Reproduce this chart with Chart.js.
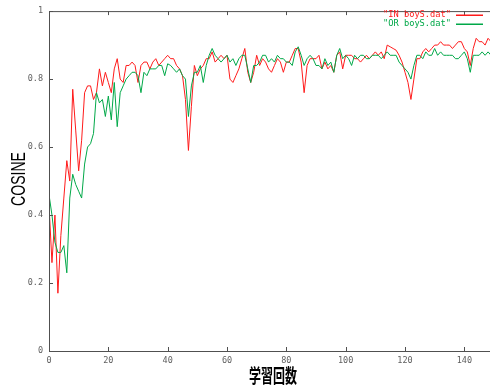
<!DOCTYPE html>
<html>
<head>
<meta charset="utf-8">
<script src="https://cdn.jsdelivr.net/npm/chart.js@4.4.1/dist/chart.umd.min.js"></script>
<style>
  html, body { margin: 0; padding: 0; background: #fff; overflow: hidden; }
  #wrap { width: 490px; height: 392px; overflow: hidden; position: relative; }
  canvas { display: block; }
</style>
</head>
<body>
<div id="wrap"><canvas id="chart" width="495" height="392"></canvas></div>
<script>
// Cosine similarity per training iteration, two runs
const seriesNames = ['"IN boyS.dat"', '"OR boyS.dat"'];
const seriesColors = ['#ff1a1a', '#00a848'];

const inBoys = [
  0.43, 0.26, 0.40, 0.17, 0.34, 0.45, 0.56, 0.50, 0.77, 0.65,
  0.53, 0.62, 0.76, 0.78, 0.78, 0.74, 0.76, 0.83, 0.78, 0.82,
  0.79, 0.76, 0.83, 0.86, 0.80, 0.79, 0.84, 0.84, 0.85, 0.84,
  0.79, 0.84, 0.85, 0.85, 0.83, 0.85, 0.86, 0.84, 0.85, 0.86,
  0.87, 0.86, 0.86, 0.84, 0.83, 0.81, 0.74, 0.59, 0.72, 0.84,
  0.81, 0.83, 0.84, 0.86, 0.86, 0.88, 0.85, 0.86, 0.87, 0.86,
  0.87, 0.80, 0.79, 0.81, 0.83, 0.86, 0.89, 0.82, 0.79, 0.82,
  0.87, 0.84, 0.86, 0.85, 0.83, 0.82, 0.84, 0.86, 0.85, 0.82,
  0.85, 0.85, 0.87, 0.89, 0.89, 0.85, 0.76, 0.84, 0.86, 0.86,
  0.86, 0.87, 0.83, 0.85, 0.83, 0.84, 0.82, 0.87, 0.88, 0.83,
  0.87, 0.87, 0.87, 0.86, 0.86, 0.85, 0.86, 0.87, 0.86, 0.87,
  0.88, 0.87, 0.88, 0.86, 0.90, 0.895, 0.89, 0.885, 0.87, 0.85,
  0.82, 0.79, 0.74, 0.80, 0.86, 0.86, 0.88, 0.89, 0.88, 0.89,
  0.90, 0.90, 0.91, 0.90, 0.90, 0.90, 0.89, 0.90, 0.91, 0.91,
  0.89, 0.88, 0.84, 0.89, 0.92, 0.91, 0.91, 0.90, 0.92, 0.91
];

const orBoys = [
  0.46, 0.40, 0.32, 0.29, 0.29, 0.31, 0.23, 0.45, 0.52, 0.49,
  0.47, 0.45, 0.55, 0.60, 0.61, 0.64, 0.76, 0.73, 0.74, 0.69,
  0.75, 0.68, 0.79, 0.66, 0.76, 0.78, 0.80, 0.81, 0.82, 0.82,
  0.81, 0.76, 0.82, 0.81, 0.83, 0.83, 0.83, 0.84, 0.84, 0.81,
  0.845, 0.84, 0.83, 0.82, 0.83, 0.81, 0.80, 0.69, 0.78, 0.82,
  0.82, 0.84, 0.79, 0.84, 0.87, 0.89, 0.87, 0.86, 0.85, 0.86,
  0.87, 0.85, 0.86, 0.84, 0.86, 0.87, 0.87, 0.83, 0.79, 0.84,
  0.84, 0.85, 0.87, 0.87, 0.85, 0.86, 0.85, 0.87, 0.86, 0.86,
  0.85, 0.85, 0.84, 0.88, 0.895, 0.87, 0.84, 0.86, 0.87, 0.86,
  0.84, 0.84, 0.83, 0.86, 0.84, 0.85, 0.82, 0.87, 0.89, 0.86,
  0.87, 0.86, 0.84, 0.87, 0.86, 0.87, 0.87, 0.86, 0.86, 0.87,
  0.87, 0.87, 0.86, 0.87, 0.88, 0.87, 0.87, 0.87, 0.85, 0.84,
  0.83, 0.82, 0.80, 0.84, 0.87, 0.87, 0.86, 0.88, 0.87, 0.87,
  0.89, 0.87, 0.88, 0.87, 0.87, 0.87, 0.87, 0.86, 0.86, 0.87,
  0.88, 0.86, 0.82, 0.87, 0.87, 0.87, 0.88, 0.87, 0.88, 0.87
];

const xTicks = [0, 20, 40, 60, 80, 100, 120, 140];
const yTicks = [0, 0.2, 0.4, 0.6, 0.8, 1];
const xTitle = '学習回数';
const yTitle = 'COSINE';

const tickFont = { family: 'DejaVu Sans Mono', size: 8.5 };
const axisColor = '#505050';
const tickTextColor = '#606060';

function toPoints(values) {
  return values.map((v, i) => ({ x: i, y: v }));
}

// Frame, inward tick marks on all four sides, axis titles and key
const gnuplotFrame = {
  id: 'gnuplotFrame',
  afterDraw(chart) {
    const { ctx, chartArea: a, scales } = chart;
    const L = a.left, R = a.right, T = a.top, B = a.bottom;
    ctx.save();
    ctx.strokeStyle = axisColor;
    ctx.lineWidth = 1;
    ctx.beginPath();
    ctx.rect(L + 0.5, T + 0.5, R - L - 1, B - T);
    ctx.stroke();

    const tl = 4;
    ctx.beginPath();
    xTicks.forEach(v => {
      const px = Math.round(scales.x.getPixelForValue(v)) + 0.5;
      ctx.moveTo(px, B); ctx.lineTo(px, B - tl);
      ctx.moveTo(px, T); ctx.lineTo(px, T + tl);
    });
    yTicks.forEach(v => {
      const py = Math.round(scales.y.getPixelForValue(v)) + 0.5;
      ctx.moveTo(L, py); ctx.lineTo(L + tl, py);
      ctx.moveTo(R, py); ctx.lineTo(R - tl, py);
    });
    ctx.stroke();

    // y-axis title, narrow and rotated
    ctx.fillStyle = '#000';
    ctx.font = '19.5px "Liberation Sans"';
    ctx.textAlign = 'center';
    ctx.textBaseline = 'middle';
    let w = ctx.measureText(yTitle).width;
    ctx.save();
    ctx.translate(20, 179);
    ctx.rotate(-Math.PI / 2);
    ctx.scale(54 / w, 1);
    ctx.fillText(yTitle, 0, 0);
    ctx.restore();

    // x-axis title
    ctx.font = 'bold 19px "Noto Sans CJK JP"';
    w = ctx.measureText(xTitle).width;
    ctx.save();
    ctx.translate(273, 376);
    ctx.scale(48 / w, 1);
    ctx.fillText(xTitle, 0, 0);
    ctx.restore();

    // key, top right
    ctx.font = '8.7px "DejaVu Sans Mono"';
    ctx.textAlign = 'right';
    chart.data.datasets.forEach((ds, k) => {
      const y = 15 + k * 9;
      const col = seriesColors[k];
      ctx.fillStyle = col;
      ctx.fillText(ds.label, 451, y);
      ctx.fillRect(456, y - 0.5, 27, 1.5);
    });
    ctx.restore();
  }
};

new Chart(document.getElementById('chart'), {
  type: 'line',
  data: {
    datasets: [
      { label: seriesNames[0], data: toPoints(inBoys), borderColor: seriesColors[0],
        borderWidth: 1, pointRadius: 0, tension: 0, fill: false, order: 1 },
      { label: seriesNames[1], data: toPoints(orBoys), borderColor: seriesColors[1],
        borderWidth: 1, pointRadius: 0, tension: 0, fill: false, order: 0 }
    ]
  },
  options: {
    responsive: false,
    animation: false,
    devicePixelRatio: 1,
    layout: { padding: { top: 9, right: 1, left: 0, bottom: 0 } },
    plugins: { legend: { display: false }, tooltip: { enabled: false } },
    scales: {
      x: {
        type: 'linear', min: 0, max: 150,
        grid: { display: false, drawTicks: false },
        border: { display: false },
        afterBuildTicks: s => { s.ticks = xTicks.map(v => ({ value: v })); },
        afterFit: s => { s.height = 41; },
        ticks: { font: tickFont, color: tickTextColor, padding: 5, maxRotation: 0, autoSkip: false }
      },
      y: {
        min: 0, max: 1,
        grid: { display: false, drawTicks: false },
        border: { display: false },
        afterBuildTicks: s => { s.ticks = yTicks.map(v => ({ value: v })); },
        afterFit: s => { s.width = 49; },
        ticks: { font: tickFont, color: tickTextColor, padding: 6,
                 callback: v => String(Math.round(v * 10) / 10) }
      }
    }
  },
  plugins: [gnuplotFrame]
});
</script>
</body>
</html>
